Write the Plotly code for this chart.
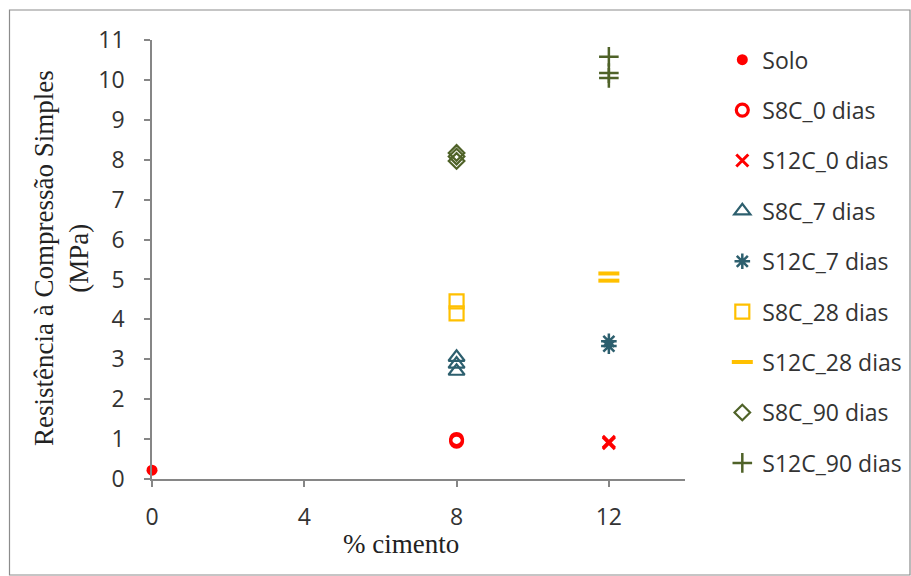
import plotly.graph_objects as go

# ---- data ----
series_names = ["Solo", "S8C_0 dias", "S12C_0 dias", "S8C_7 dias", "S12C_7 dias",
                "S8C_28 dias", "S12C_28 dias", "S8C_90 dias", "S12C_90 dias"]
solo_x = [0]
solo_y = [0.22]
s8c_0_x = [8, 8]
s8c_0_y = [0.95, 0.99]
s12c_0_x = [12, 12]
s12c_0_y = [0.90, 0.93]
s8c_7_x = [8, 8, 8]
s8c_7_y = [3.05, 2.88, 2.70]
s12c_7_x = [12, 12]
s12c_7_y = [3.33, 3.45]
s8c_28_x = [8, 8]
s8c_28_y = [4.45, 4.15]
s12c_28_x = [12, 12]
s12c_28_y = [5.15, 4.97]
s8c_90_x = [8, 8, 8]
s8c_90_y = [8.17, 8.08, 7.97]
s12c_90_x = [12, 12, 12]
s12c_90_y = [10.58, 10.17, 10.05]
x_ticks = [0, 4, 8, 12]
y_ticks = list(range(0, 12))

RED = "#FF0000"
TEAL = "#2D5F6E"
YEL = "#FFC000"
OLV = "#4F6228"

styles = [
    dict(symbol="circle", size=11, color=RED, line=dict(width=0)),
    dict(symbol="circle-open", size=12, color=RED, line=dict(width=3.2, color=RED)),
    dict(symbol="x-thin-open", size=12, color=RED, line=dict(width=3, color=RED)),
    dict(symbol="triangle-up-open", size=14, color=TEAL, line=dict(width=2.2, color=TEAL)),
    dict(symbol="asterisk-open", size=13, color=TEAL, line=dict(width=2.5, color=TEAL)),
    dict(symbol="square-open", size=14, color=YEL, line=dict(width=2.2, color=YEL)),
    dict(symbol="line-ew-open", size=15, color=YEL, line=dict(width=4, color=YEL)),
    dict(symbol="diamond-open", size=12, color=OLV, line=dict(width=2.2, color=OLV)),
    dict(symbol="cross-thin-open", size=14, color=OLV, line=dict(width=2.5, color=OLV)),
]
xs = [solo_x, s8c_0_x, s12c_0_x, s8c_7_x, s12c_7_x, s8c_28_x, s12c_28_x, s8c_90_x, s12c_90_x]
ys = [solo_y, s8c_0_y, s12c_0_y, s8c_7_y, s12c_7_y, s8c_28_y, s12c_28_y, s8c_90_y, s12c_90_y]

fig = go.Figure()
for i, (name, x, y, st) in enumerate(zip(series_names, xs, ys, styles)):
    fig.add_trace(go.Scatter(x=x, y=y, mode="markers", name=name, marker=st,
                             legendgroup=f"g{i}", cliponaxis=False))

AX = "#868686"
TICKFONT = dict(family="Open Sans", size=23, color="#333333")
TITLEFONT = dict(family="Liberation Serif", size=27, color="#222222")

fig.update_layout(
    width=911, height=576,
    margin=dict(l=152, r=226, t=40, b=97, autoexpand=False),
    paper_bgcolor="white", plot_bgcolor="white",
    showlegend=True,
    legend=dict(x=1.07, y=1.004, xanchor="left", yanchor="top",
                font=dict(family="Open Sans", size=23, color="#333333"),
                tracegroupgap=17.5, itemwidth=30, bgcolor="rgba(0,0,0,0)",
                maxheight=1),
    xaxis=dict(range=[0, 14], tickvals=x_ticks, showgrid=False, zeroline=False,
               showline=True, linecolor=AX, linewidth=1.5,
               ticks="outside", ticklen=6, tickcolor=AX, tickwidth=1.5,
               tickfont=TICKFONT, ticklabelstandoff=11, automargin=False),
    yaxis=dict(range=[0, 11], tickvals=y_ticks, showgrid=False, zeroline=False,
               showline=True, linecolor=AX, linewidth=1.5,
               ticks="outside", ticklen=6, tickcolor=AX, tickwidth=1.5,
               tickfont=TICKFONT, ticklabelstandoff=15, automargin=False),
)

# x-axis title
fig.add_annotation(text="% cimento", xref="paper", yref="paper",
                   x=(401 - 152) / 533, y=(479 - 544) / 439,
                   xanchor="center", yanchor="middle", showarrow=False,
                   font=TITLEFONT)
# y-axis title
fig.add_annotation(text="Resistência à Compressão Simples<br>(MPa)", xref="paper", yref="paper",
                   x=(61 - 152) / 533, y=(479 - 258) / 439, textangle=-90,
                   xanchor="center", yanchor="middle", showarrow=False,
                   font=TITLEFONT)

# outer chart border
fig.add_shape(type="rect", xref="paper", yref="paper",
              x0=(9.5 - 152) / 533, x1=(910 - 152) / 533,
              y0=(479 - 575) / 439, y1=(479 - 10) / 439,
              line=dict(color="#8C8C8C", width=1.2), fillcolor="rgba(0,0,0,0)", layer="below")

fig.write_html("out.html", post_script="document.body.style.margin='0';",
               config={"displayModeBar": False})
